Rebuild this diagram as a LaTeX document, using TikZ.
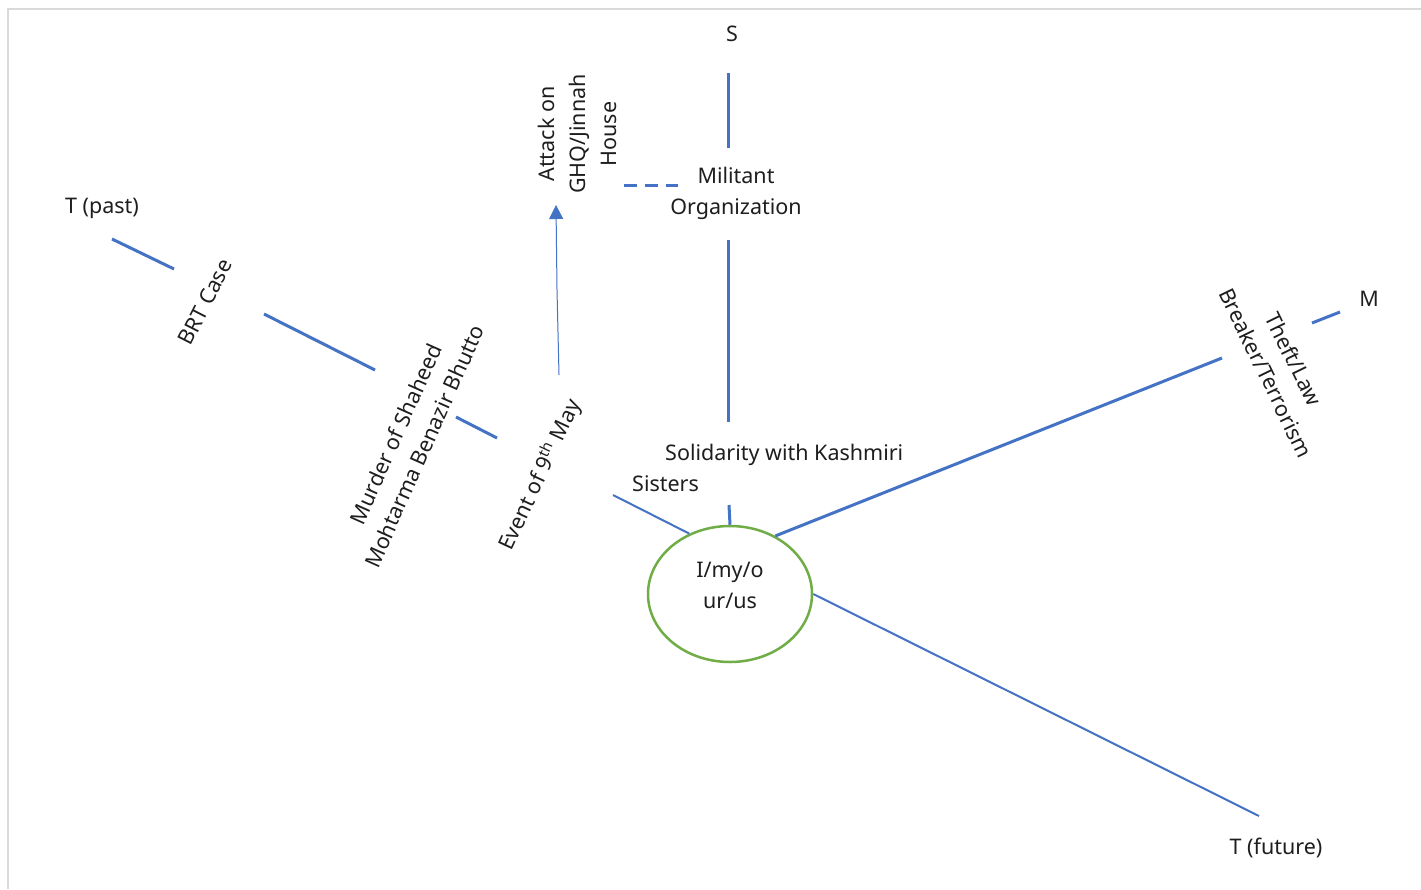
\documentclass[tikz,border=0pt]{standalone}
\usepackage{fontspec}
\setmainfont{Noto Sans}
\usetikzlibrary{arrows.meta,shapes.geometric}
\definecolor{lblue}{HTML}{4472C4}
\definecolor{lgreen}{HTML}{70AD47}
\definecolor{frame}{HTML}{D9D9D9}
\definecolor{txtc}{HTML}{1E1E1E}
\begin{document}
\begin{tikzpicture}[x=1pt,y=-1pt,
  txt/.style={font=\fontsize{21.5}{31}\selectfont, text=txtc, align=center, inner sep=0pt},
  seg/.style={lblue, line width=3pt},
  thinseg/.style={lblue, line width=2pt}]
\useasboundingbox (0,0) rectangle (1421,889);
\fill[white] (0,0) rectangle (1421,889);
\draw[frame, line width=1.5pt] (8,889) -- (8,9) -- (1421,9);

% nodes
\node[txt] (S) at (732,34) {S};
\node[txt] (Tpast) at (102,208) {T (past)};
\node[txt, rotate=63] (brt) at (205,302) {BRT Case};
\node[txt, rotate=66] (murder) at (410,440) {Murder of Shaheed\\Mohtarma Benazir Bhutto};
\node[txt, rotate=65] (event) at (540,475) {Event of 9\textsuperscript{th} May};
\node[txt, rotate=90] (attack) at (577,134) {Attack on\\GHQ/Jinnah\\House};
\node[txt] (mil) at (736,193) {Militant\\Organization};
\node[txt, align=left, anchor=north west] (sol) at (632,444) {\hspace*{33pt}Solidarity with Kashmiri\\Sisters};
\node[txt, rotate=-64] (theft) at (1280,366) {Theft/Law\\Breaker/Terrorism};
\node[txt] (M) at (1369,299) {M};
\node[txt] (Tfut) at (1276,848) {T (future)};
\node[txt, ellipse, draw=lgreen, line width=2.5pt, minimum width=164pt, minimum height=136pt, text depth=17pt] (me) at (730,594) {I/my/o\\ur/us};

% connector end points
\coordinate (s1) at (728,73);
\coordinate (s2) at (728,148);
\coordinate (s3) at (728,240);
\coordinate (s4) at (728,422);
\coordinate (s5) at (729,505);
\coordinate (p1) at (112,239);
\coordinate (p2) at (174,269);
\coordinate (p3) at (264,314);
\coordinate (p4) at (375,370);
\coordinate (p5) at (456,417);
\coordinate (p6) at (497,438);
\coordinate (p7) at (613,495);
\coordinate (m1) at (1222,358);
\coordinate (m2) at (1312,323);
\coordinate (m3) at (1340,312);
\coordinate (f1) at (1259,816);
\coordinate (d1) at (624,185);
\coordinate (d2) at (678,185);
\coordinate (a1) at (559,375);
\coordinate (a2) at (557,290);
\coordinate (a3) at (556,205);

% connectors
\draw[seg] (s1) -- (s2);
\draw[seg] (s3) -- (s4);
\draw[seg] (s5) -- (me.north);
\draw[seg] (p1) -- (p2);
\draw[seg] (p3) -- (p4);
\draw[seg] (p5) -- (p6);
\draw[thinseg] (p7) -- (me.124);
\draw[seg] (me.52) -- (m1);
\draw[seg] (m2) -- (m3);
\draw[thinseg] (me.east) -- (f1);
\draw[lblue, line width=3pt, dash pattern=on 13pt off 8pt] (d1) -- (d2);
\draw[lblue, line width=1pt, -{Triangle[width=14pt,length=14pt]}] (a1) -- (a2) -- (a3);
\end{tikzpicture}
\end{document}
